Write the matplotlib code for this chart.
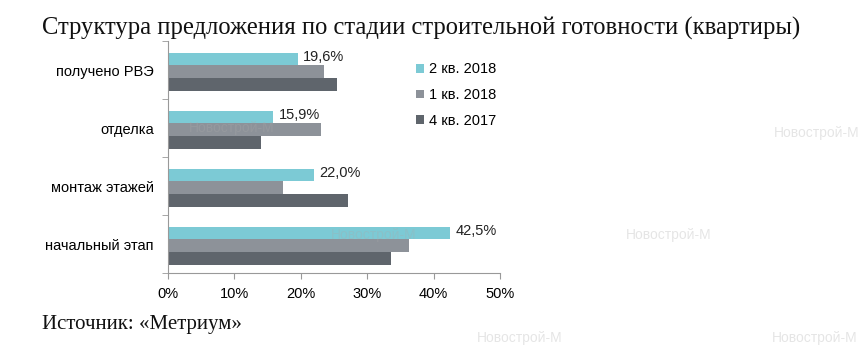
import numpy as np
import matplotlib
import matplotlib.pyplot as plt

matplotlib.use('Agg')

# Данные
categories = ['получено РВЭ', 'отделка', 'монтаж этажей', 'начальный этап']
series_names = ['2 кв. 2018', '1 кв. 2018', '4 кв. 2017']
q2_2018 = [19.6, 15.9, 22.0, 42.5]
q1_2018 = [23.5, 23.1, 17.4, 36.3]
q4_2017 = [25.5, 14.0, 27.1, 33.6]
value_labels = ['19,6%', '15,9%', '22,0%', '42,5%']
x_ticks = [0, 10, 20, 30, 40, 50]

colors = ['#7ccad5', '#8d9299', '#5f656c']
sans = ['Liberation Sans', 'DejaVu Sans']
serif = ['Liberation Serif', 'DejaVu Serif']

fig = plt.figure(figsize=(8.6, 3.52), dpi=100)
ax = fig.add_axes([0.1948, 0.2244, 0.3866, 0.659])

# Водяные знаки (только там, где не мешают тексту)
wm_pos = [(0.22, 0.636), (0.90, 0.622),
          (0.385, 0.332), (0.728, 0.332),
          (0.555, 0.04), (0.898, 0.04)]
for wx, wy in wm_pos:
    fig.text(wx, wy, 'Новострой-М', fontsize=10, color='#aaaaaa', alpha=0.3,
             family=sans, ha='left', va='center', zorder=5)

y = np.arange(len(categories))
h = 0.22
series = [q2_2018, q1_2018, q4_2017]
for i, vals in enumerate(series):
    ax.barh(y + (i - 1) * h + 0.03, vals, height=h, color=colors[i],
            label=series_names[i], zorder=2)

for yi, v, lab in zip(y, q2_2018, value_labels):
    ax.text(v + 0.8, yi - h - 0.01, lab, fontsize=10.5, family=sans,
            va='center', ha='left', color='#222222')

ax.set_xlim(0, 50)
ax.set_ylim(3.5, -0.5)
ax.set_xticks(x_ticks)
ax.set_xticklabels([f'{t}%' for t in x_ticks], fontsize=10.5, family=sans)
ax.set_yticks(y)
ax.set_yticklabels(categories, fontsize=10.5, family=sans)
ax.set_yticks([-0.5, 0.5, 1.5, 2.5, 3.5], minor=True)
ax.tick_params(axis='y', which='major', length=0, pad=10)
ax.tick_params(axis='y', which='minor', length=4, color='#999999')
ax.tick_params(axis='x', length=4, color='#999999', pad=6)

for s in ['top', 'right']:
    ax.spines[s].set_visible(False)
for s in ['left', 'bottom']:
    ax.spines[s].set_color('#999999')

leg = fig.legend(loc='upper left', bbox_to_anchor=(0.468, 0.86),
                 frameon=False, prop={'family': sans, 'size': 10.5},
                 handlelength=0.55, handleheight=0.55, handletextpad=0.35,
                 labelspacing=0.8)

fig.text(0.049, 0.92, 'Структура предложения по стадии строительной готовности (квартиры)',
         fontsize=17.7, family=serif, ha='left', va='center', color='#111111')
fig.text(0.049, 0.077, 'Источник: «Метриум»', fontsize=15, family=serif,
         ha='left', va='center', color='#111111')

plt.savefig('out.png', dpi=100)
